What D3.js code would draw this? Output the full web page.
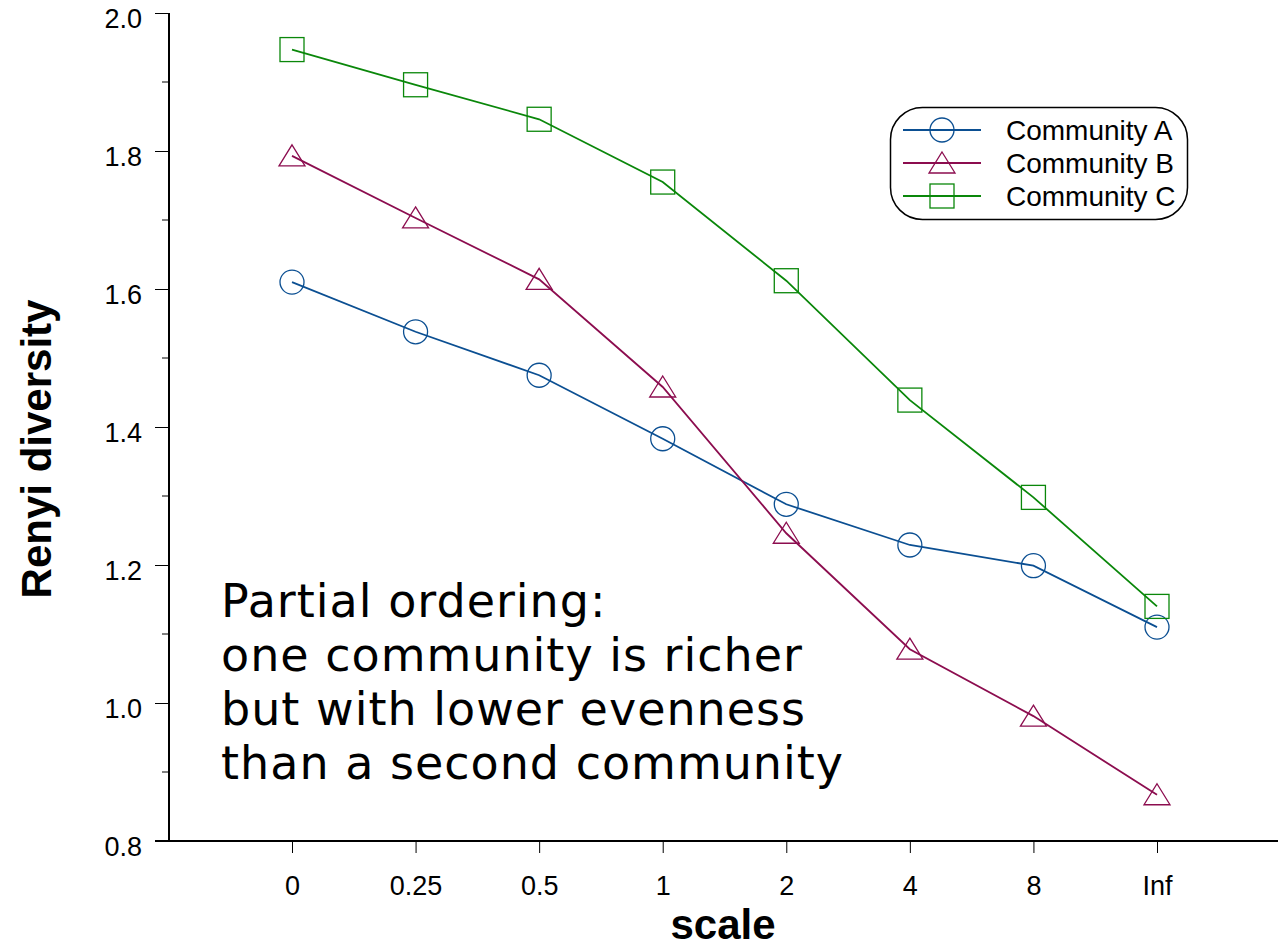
<!DOCTYPE html>
<html>
<head>
<meta charset="utf-8">
<script src="https://cdn.jsdelivr.net/npm/d3@7"></script>
<style>
  html, body { margin: 0; padding: 0; background: #fff; }
  svg { display: block; }
</style>
</head>
<body>
<svg id="chart" width="1278" height="951"></svg>
<script>
// Renyi diversity profiles of three communities
const scales = ["0", "0.25", "0.5", "1", "2", "4", "8", "Inf"];
const communityA = [1.610, 1.538, 1.475, 1.383, 1.288, 1.229, 1.199, 1.110];
const communityB = [1.793, 1.703, 1.614, 1.458, 1.246, 1.078, 0.981, 0.867];
const communityC = [1.947, 1.896, 1.846, 1.755, 1.612, 1.439, 1.298, 1.140];
const seriesNames = ["Community A", "Community B", "Community C"];
const yMajorTicks = [0.8, 1.0, 1.2, 1.4, 1.6, 1.8, 2.0];
const yMinorTicks = [0.9, 1.1, 1.3, 1.5, 1.7, 1.9];
const noteLines = [
  "Partial ordering:",
  "one community is richer",
  "but with lower evenness",
  "than a second community"
];

const series = [
  { name: seriesNames[0], values: communityA, color: "#0b4f92", shape: "circle" },
  { name: seriesNames[1], values: communityB, color: "#8c0d4f", shape: "triangle" },
  { name: seriesNames[2], values: communityC, color: "#0a870a", shape: "square" }
];

const svg = d3.select("#chart");
const axisX0 = 169, axisX1 = 1278, axisYTop = 13, axisYBottom = 841;

const x = d3.scalePoint().domain(scales).range([292, 1157]);
const y = d3.scaleLinear().domain([0.8, 2.0]).range([axisYBottom, axisYTop]);

const tickFont = "'Liberation Sans', Arial, sans-serif";

// y axis: major ticks with labels, unlabelled minor ticks
const yAxis = svg.append("g").attr("transform", `translate(${axisX0},0)`);
yAxis.call(d3.axisLeft(y).tickValues(yMajorTicks).tickSize(14).tickPadding(13)
  .tickFormat(d3.format(".1f")));
yAxis.selectAll(".tick").filter(d => d === 0.8).select("line").remove();
yAxis.selectAll(".tick text").attr("dy", "0.55em");
yAxis.append("g").selectAll("line").data(yMinorTicks).join("line")
  .attr("x1", -7).attr("x2", 0)
  .attr("y1", d => y(d)).attr("y2", d => y(d))
  .attr("stroke", "#000").attr("stroke-width", 1);
yAxis.select(".domain").attr("d", `M0,${axisYTop}V${axisYBottom + 0.5}`);

// x axis
const xAxis = svg.append("g").attr("transform", `translate(0,${axisYBottom})`);
xAxis.call(d3.axisBottom(x).tickSize(12).tickPadding(23));
xAxis.select(".domain").attr("d", `M${axisX0 - 14},0H${axisX1}`);

[yAxis, xAxis].forEach(g => {
  g.attr("font-size", null).attr("font-family", null);
  g.select(".domain").attr("stroke", "#000").attr("stroke-width", 2);
  g.selectAll(".tick line").attr("stroke", "#000").attr("stroke-width", 1);
  g.selectAll(".tick text").attr("fill", "#000")
    .style("font-family", tickFont).style("font-size", "27px");
});

// axis titles
svg.append("text")
  .attr("transform", `translate(51,449) rotate(-90)`)
  .attr("text-anchor", "middle")
  .style("font-family", tickFont).style("font-size", "42px").style("font-weight", "bold")
  .text("Renyi diversity");
svg.append("text")
  .attr("x", 723).attr("y", 939)
  .attr("text-anchor", "middle")
  .style("font-family", tickFont).style("font-size", "42px").style("font-weight", "bold")
  .text("scale");

// marker drawing
function drawMarker(sel, shape, color) {
  if (shape === "circle") {
    sel.append("circle").attr("r", 12);
  } else if (shape === "triangle") {
    sel.append("path").attr("d", "M0,-11L13,10H-13Z");
  } else {
    sel.append("rect").attr("x", -12).attr("y", -12).attr("width", 24).attr("height", 24);
  }
  sel.selectAll("*").attr("fill", "none").attr("stroke", color).attr("stroke-width", 1.3);
}

const line = d3.line().x((d, i) => x(scales[i])).y(d => y(d));

series.forEach(s => {
  const g = svg.append("g");
  g.append("path").datum(s.values)
    .attr("d", line)
    .attr("fill", "none").attr("stroke", s.color).attr("stroke-width", 1.8);
  g.selectAll("g.marker").data(s.values).join("g")
    .attr("class", "marker")
    .attr("transform", (d, i) => `translate(${x(scales[i])},${y(d)})`)
    .each(function () { drawMarker(d3.select(this), s.shape, s.color); });
});

// legend
const legend = svg.append("g").attr("transform", "translate(890,107)");
legend.append("rect")
  .attr("x", 0.5).attr("y", 0.5).attr("width", 297).attr("height", 112)
  .attr("rx", 32).attr("ry", 32)
  .attr("fill", "#fff").attr("stroke", "#000").attr("stroke-width", 1.5);
series.forEach((s, i) => {
  const row = legend.append("g").attr("transform", `translate(0,${23 + i * 33})`);
  row.append("line").attr("x1", 13).attr("x2", 91).attr("y1", 0).attr("y2", 0)
    .attr("stroke", s.color).attr("stroke-width", 1.8);
  const m = row.append("g").attr("transform", "translate(52,0)");
  drawMarker(m, s.shape, s.color);
  row.append("text").attr("x", 116).attr("y", 10)
    .style("font-family", tickFont).style("font-size", "28px")
    .text(s.name);
});

// annotation
const note = svg.append("text")
  .style("font-family", "'DejaVu Sans', sans-serif").style("font-size", "46px")
  .style("letter-spacing", "1px")
  .attr("fill", "#000");
noteLines.forEach((t, i) => {
  note.append("tspan").attr("x", 221).attr("y", 617 + i * 54).text(t);
});
</script>
</body>
</html>
